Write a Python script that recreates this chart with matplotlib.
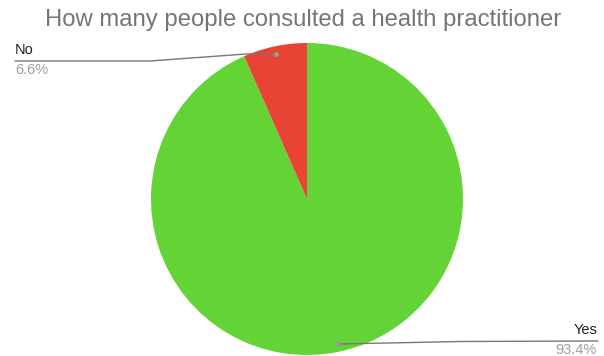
import numpy as np
import matplotlib
matplotlib.use("Agg")
import matplotlib.pyplot as plt

plt.rcParams['font.family'] = ['Liberation Sans', 'DejaVu Sans']

title = "How many people consulted a health practitioner"
labels = ["Yes", "No"]
shares = [93.4, 6.6]
colors = ["#63d335", "#e94335"]

W, H = 604, 356
fig = plt.figure(figsize=(W / 100, H / 100), dpi=100)
ax = fig.add_axes([0, 0, 1, 1])


def fy(y):
    """Convert a pixel row counted from the top into the axes' y-up units."""
    return H - y


cx, cy, R = 307, fy(199), 156
wedges, _ = ax.pie(shares, colors=colors, startangle=90, counterclock=False,
                   center=(cx, cy), radius=R, frame=True,
                   wedgeprops=dict(linewidth=0))
ax.set_xlim(0, W)
ax.set_ylim(0, H)
ax.set_aspect('equal', adjustable='datalim')
ax.axis('off')


def mid_point(w, frac=0.95):
    th = np.deg2rad((w.theta1 + w.theta2) / 2)
    return cx + frac * R * np.cos(th), cy + frac * R * np.sin(th)


line_c = "#777777"
dot_c = "#9a9a9a"
fs = 10.5

# "No" leader line to the upper left
nx, ny = mid_point(wedges[1])
ax.plot([nx, nx - 30, 150, 15], [ny, ny, fy(61), fy(61)],
        color=line_c, lw=1, solid_capstyle='round', zorder=3)
ax.plot([nx], [ny], 'o', ms=3.5, color=dot_c, mec='none', zorder=4)
ax.text(15, fy(57.5), labels[1], ha='left', va='bottom', fontsize=fs, color="#222222")
ax.text(15, fy(63.5), f"{shares[1]}%", ha='left', va='top', fontsize=fs, color="#9e9e9e")

# "Yes" leader line to the lower right
yx, yy = mid_point(wedges[0])
ax.plot([yx, 460, 598], [yy, fy(341.5), fy(341)],
        color=line_c, lw=1, solid_capstyle='round', zorder=3)
ax.plot([yx], [yy], 'o', ms=3.5, color=dot_c, mec='none', zorder=4)
ax.text(597, fy(337.5), labels[0], ha='right', va='bottom', fontsize=fs, color="#222222")
ax.text(597, fy(343.5), f"{shares[0]}%", ha='right', va='top', fontsize=fs, color="#9e9e9e")

ax.text(W / 2 + 1, fy(20), title, ha='center', va='center', fontsize=17.2, color="#757575")

fig.savefig("out.png", dpi=100)
